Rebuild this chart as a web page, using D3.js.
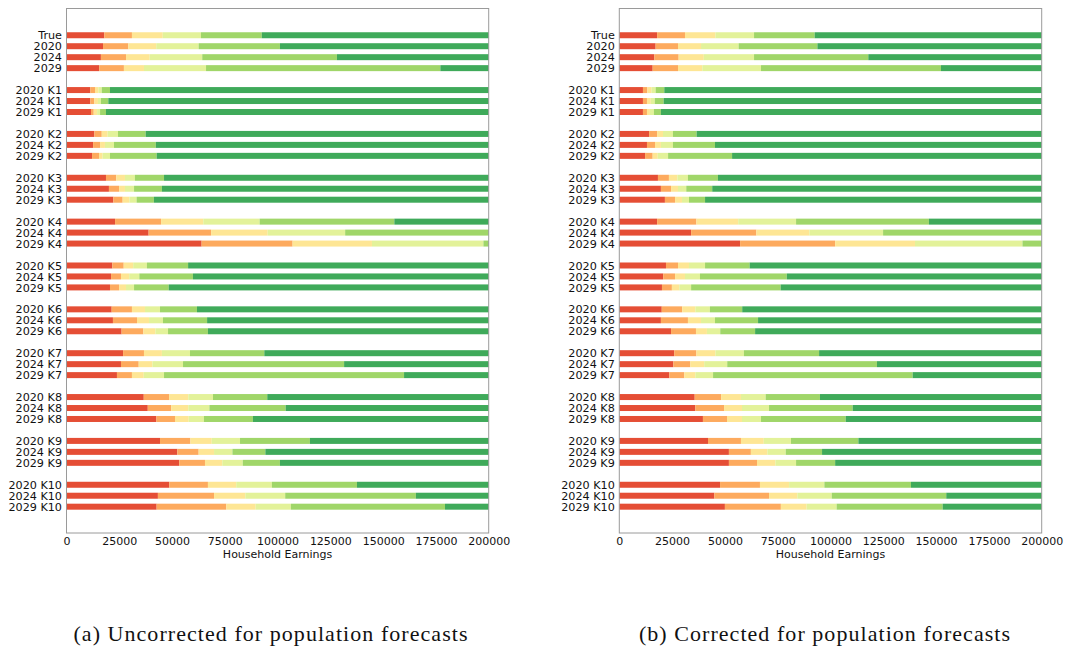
<!DOCTYPE html>
<html>
<head>
<meta charset="utf-8">
<script src="https://cdn.jsdelivr.net/npm/d3@7"></script>
<style>
  body { margin: 0; background: #fff; }
  svg { display: block; }
</style>
</head>
<body>
<div id="chart"></div>
<script>
// Row labels, top to bottom
const rowLabels = ["True", "2020", "2024", "2029",
  "2020 K1", "2024 K1", "2029 K1", "2020 K2", "2024 K2", "2029 K2",
  "2020 K3", "2024 K3", "2029 K3", "2020 K4", "2024 K4", "2029 K4",
  "2020 K5", "2024 K5", "2029 K5", "2020 K6", "2024 K6", "2029 K6",
  "2020 K7", "2024 K7", "2029 K7", "2020 K8", "2024 K8", "2029 K8",
  "2020 K9", "2024 K9", "2029 K9", "2020 K10", "2024 K10", "2029 K10"];

// Upper edges of the first five bands for each row (last band runs to the axis end)
const uncorrected = [
  [17900, 31000, 45600, 63700, 92500],
  [17300, 29300, 42500, 62600, 101100],
  [16300, 28200, 39400, 64300, 128100],
  [15500, 27200, 36700, 66100, 177100],
  [11300, 13500, 15100, 16700, 20600],
  [11300, 13200, 14900, 16300, 19800],
  [11600, 12900, 14500, 15900, 18700],
  [13200, 16700, 19500, 24400, 37500],
  [12600, 15900, 18200, 22500, 42300],
  [12100, 15400, 17100, 20600, 42700],
  [18700, 23600, 27700, 32400, 46200],
  [20100, 24900, 27700, 32000, 45200],
  [22200, 26600, 29800, 33200, 41400],
  [23000, 44800, 64800, 91500, 155300],
  [38900, 68500, 95300, 132000, 200000],
  [64000, 107100, 144700, 197500, 200000],
  [21700, 27100, 31600, 38100, 57600],
  [21100, 25800, 29700, 34500, 59900],
  [20600, 24900, 28200, 32000, 48400],
  [21400, 31000, 37200, 44300, 61800],
  [22000, 33400, 39100, 45700, 66600],
  [26100, 36400, 42100, 48100, 67000],
  [26800, 36700, 45200, 58500, 93700],
  [25800, 34200, 40700, 55200, 131500],
  [23900, 31000, 36600, 46200, 159900],
  [36600, 48600, 57700, 69400, 95100],
  [38500, 49600, 57700, 67700, 103800],
  [42600, 51400, 57900, 65100, 88300],
  [44300, 58700, 68800, 82200, 115300],
  [52500, 62600, 69900, 78600, 94200],
  [53400, 65600, 73800, 83500, 101100],
  [48700, 67000, 80400, 97300, 137600],
  [43300, 69900, 84700, 103600, 165500],
  [42700, 75700, 89600, 106300, 179300]
];

const corrected = [
  [17900, 31100, 45500, 63800, 92500],
  [17200, 27800, 38700, 56500, 93800],
  [16600, 28100, 40000, 63800, 117900],
  [15800, 27800, 39300, 67100, 152300],
  [11200, 13300, 15300, 17200, 21300],
  [11200, 13100, 14900, 16800, 21000],
  [11200, 13100, 14500, 16400, 19700],
  [14100, 17900, 20700, 25400, 36600],
  [13100, 16900, 19700, 25400, 45300],
  [12200, 15800, 18200, 23100, 53400],
  [18300, 23500, 27500, 32500, 46700],
  [19700, 24500, 27800, 31700, 44000],
  [21600, 26400, 29700, 33000, 40600],
  [17900, 36500, 56300, 83700, 146600],
  [34000, 64900, 90000, 124900, 200000],
  [57200, 102200, 140000, 190900, 200000],
  [22100, 27800, 33000, 40600, 61700],
  [20800, 26400, 31100, 38200, 79300],
  [20200, 24900, 28400, 34000, 76400],
  [20100, 29800, 36000, 42900, 58200],
  [19700, 32500, 38700, 45300, 65700],
  [24500, 36300, 41500, 47800, 64300],
  [26000, 36500, 45500, 59000, 94600],
  [25600, 33600, 40200, 51100, 122000],
  [23700, 30800, 36000, 44400, 138900],
  [35700, 48200, 57600, 69300, 95000],
  [36000, 49600, 58100, 70900, 110500],
  [39600, 51000, 58100, 67100, 107200],
  [42000, 57600, 68400, 81300, 113200],
  [51900, 62300, 70100, 78800, 96000],
  [51900, 65200, 73900, 83700, 102200],
  [47700, 66600, 80400, 97100, 138100],
  [45000, 70900, 84300, 100600, 154800],
  [50000, 76500, 88700, 102900, 153100]
];

const bandColors = ["#e54e35", "#fdaa5e", "#fee695", "#e3f29a", "#a0d669", "#3faa5a"];
const xTicks = [0, 25000, 50000, 75000, 100000, 125000, 150000, 175000, 200000];
const xMax = 200000;
const captions = ["(a) Uncorrected for population forecasts", "(b) Corrected for population forecasts"];

// slot index on the y axis: blank slot between groups
function slotOf(i) {
  return i < 4 ? i : i + 1 + Math.floor((i - 4) / 3);
}

const svg = d3.select("#chart").append("svg")
  .attr("width", 1068)
  .attr("height", 649);

const panels = [
  { data: uncorrected, left: 66.5, right: 488.7, capX: 271 },
  { data: corrected, left: 619.3, right: 1041.7, capX: 825 }
];
const plotTop = 8.5, plotBottom = 533;

const y = d3.scaleLinear().domain([-2.44, 45.4]).range([plotTop, plotBottom]);
const barH = 6;

panels.forEach((p, pi) => {
  const x = d3.scaleLinear().domain([0, xMax]).range([p.left, p.right]);
  const g = svg.append("g");

  // build segments
  const segs = [];
  p.data.forEach((edges, i) => {
    const bounds = [0, ...edges, xMax];
    for (let k = 0; k < 6; k++) {
      if (bounds[k + 1] > bounds[k]) {
        segs.push({ row: i, band: k, x0: bounds[k], x1: bounds[k + 1] });
      }
    }
  });

  g.selectAll("rect.seg")
    .data(segs)
    .enter()
    .append("rect")
    .attr("class", "seg")
    .attr("x", d => x(d.x0))
    .attr("width", d => x(d.x1) - x(d.x0))
    .attr("y", d => y(slotOf(d.row)) - barH / 2)
    .attr("height", barH)
    .attr("fill", d => bandColors[d.band]);

  // frame
  g.append("rect")
    .attr("x", p.left).attr("y", plotTop)
    .attr("width", p.right - p.left).attr("height", plotBottom - plotTop)
    .attr("fill", "none")
    .attr("stroke", "#9a9a9a")
    .attr("stroke-width", 1);

  // x axis
  const xAxis = d3.axisBottom(x).tickValues(xTicks).tickFormat(d3.format("d")).tickSize(0).tickPadding(4);
  const xa = g.append("g").attr("transform", `translate(0,${plotBottom})`).call(xAxis);
  xa.select(".domain").remove();
  xa.selectAll("text").attr("font-family", "DejaVu Sans").attr("font-size", 11).attr("fill", "#111");

  // y labels
  const yPos = d3.scaleOrdinal().domain(rowLabels).range(rowLabels.map((l, i) => y(slotOf(i))));
  const yAxis = d3.axisLeft(yPos).tickSize(0).tickPadding(4.5);
  const ya = g.append("g").attr("transform", `translate(${p.left},0)`).call(yAxis);
  ya.select(".domain").remove();
  ya.selectAll("text").attr("font-family", "DejaVu Sans").attr("font-size", 11.2).attr("fill", "#111");

  g.append("text")
    .attr("x", (p.left + p.right) / 2)
    .attr("y", 557.5)
    .attr("text-anchor", "middle")
    .attr("font-family", "DejaVu Sans")
    .attr("font-size", 11)
    .attr("fill", "#111")
    .text("Household Earnings");

  svg.append("text")
    .attr("x", p.capX)
    .attr("y", 641)
    .attr("text-anchor", "middle")
    .attr("font-family", "Liberation Serif")
    .attr("font-size", 22)
    .attr("letter-spacing", 1.05)
    .attr("fill", "#111")
    .text(captions[pi]);
});
</script>
</body>
</html>
